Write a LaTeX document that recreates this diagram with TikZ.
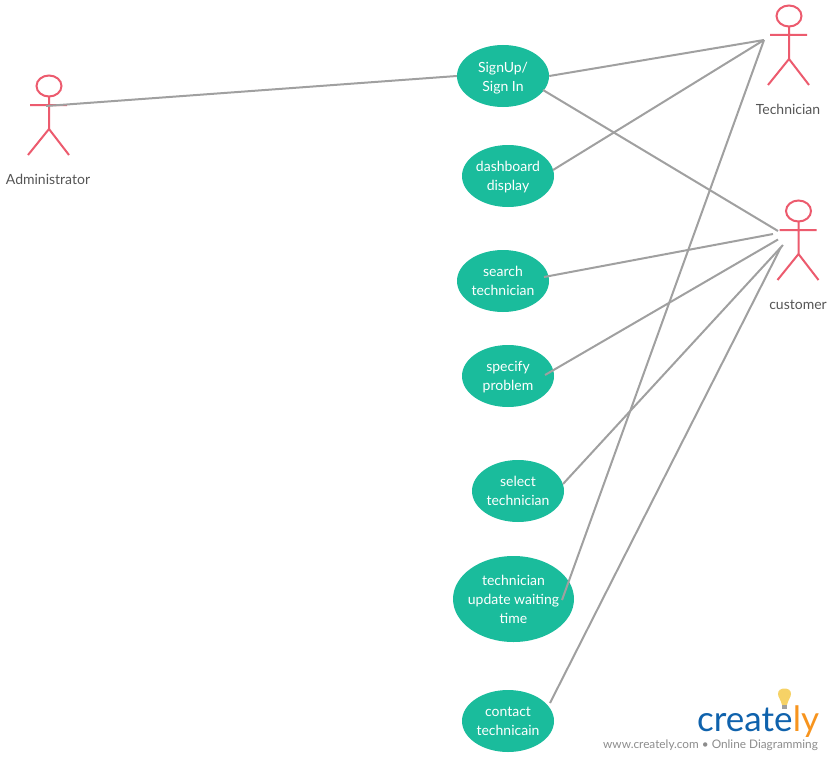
\documentclass[tikz,border=0pt]{standalone}
\usepackage{fontspec}
\setmainfont{Lato}[Extension=.ttf,UprightFont=*-Regular,BoldFont=*-Bold]
\definecolor{uc}{HTML}{1ABC9C}
\definecolor{act}{HTML}{EC5B6E}
\definecolor{lnk}{HTML}{A0A0A0}
\definecolor{lbl}{HTML}{555555}
\definecolor{blu}{HTML}{0F62AC}
\definecolor{org}{HTML}{F7941E}
\definecolor{bulb}{HTML}{F6D266}
\tikzset{
 usecase/.style={ellipse,fill=uc,text=white,inner sep=0pt,align=center,font=\fontsize{14}{19}\selectfont},
 actorline/.style={draw=act,line width=2pt},
 link/.style={draw=lnk,line width=2pt},
 actorlabel/.style={text=lbl,font=\fontsize{14}{17}\selectfont,inner sep=0pt},
}
\usetikzlibrary{shapes.geometric}
\newcommand{\dn}[1]{\rule{0pt}{\dimexpr 10.2pt+#1pt*2\relax}}
\newcommand{\actor}[2]{%
 \draw[actorline] (#1,#2-19) ellipse [x radius=12.5,y radius=10.5];
 \draw[actorline] (#1,#2-8.5) -- (#1,#2+24) (#1-19,#2) -- (#1+18,#2)
   (#1-21,#2+50) -- (#1,#2+24) -- (#1+20,#2+50);
}
\begin{document}
\begin{tikzpicture}[x=1pt,y=-1pt]
\useasboundingbox (0,0) rectangle (832,760);
\node[usecase,minimum width=92pt,minimum height=62pt] (signup) at (503,76) {\dn{2}SignUp/\\Sign In};
\node[usecase,minimum width=92pt,minimum height=62pt] (dash) at (508,176) {\dn{1}dashboard\\display};
\node[usecase,minimum width=92pt,minimum height=62pt] (search) at (503,281) {search\\technician};
\node[usecase,minimum width=92pt,minimum height=62pt] (spec) at (508,376) {\dn{1}specify\\problem};
\node[usecase,minimum width=92pt,minimum height=62pt] (sel) at (518,491) {select\\technician};
\node[usecase,inner xsep=-3pt,minimum width=121pt,minimum height=86pt] (upd) at (513.5,599) {technician\\update waiting\\time};
\node[usecase,minimum width=92pt,minimum height=62pt] (cont) at (508,721) {contact\\technicain};
\actor{49}{105}
\actor{789}{35}
\actor{798.500}{230}
\node[actorlabel] (ladm) at (48,179) {Administrator};
\node[actorlabel] (ltec) at (788,109) {Technician};
\node[actorlabel] (lcus) at (798,304.500) {customer};
\coordinate (admE) at (46,106);
\coordinate (tecE) at (764,40);
\coordinate (cusA) at (778,231);
\coordinate (cusB) at (773,234);
\coordinate (cusC) at (778,239.500);
\coordinate (cusD) at (783,245);
\coordinate (cusE) at (781,247);
\draw[link] (admE) -- (signup.180);
\draw[link] (signup.0) -- (tecE);
\draw[link] ([shift={(40,14)}]signup.center) -- (cusA);
\draw[link] ([shift={(45,-6)}]dash.center) -- (tecE);
\draw[link] ([shift={(41,-4)}]search.center) -- (cusB);
\draw[link] ([shift={(37,-1)}]spec.center) -- (cusC);
\draw[link] ([shift={(45,-7)}]sel.center) -- (cusD);
\draw[link] ([shift={(48.5,1)}]upd.center) -- (tecE);
\draw[link] ([shift={(42,-18)}]cont.center) -- (cusE);
% logo
\fill[bulb] (782,705) .. controls (781,700) and (778,697) .. (778,694) .. controls (778,690) and (781,688.500) .. (784.500,688.500) .. controls (788,688.500) and (791,690) .. (791,694) .. controls (791,697) and (788,700) .. (787,705) -- cycle;
\fill[lnk] (782,705) rectangle (787,709);
\node[anchor=base west,inner sep=0pt,text=blu,font=\fontsize{35}{35}\selectfont] (logoa) at (697,731) {create};
\node[anchor=base west,inner sep=0pt,text=org,font=\fontsize{35}{35}\selectfont] (logob) at (logoa.base east) {ly};
\node[anchor=base east,inner sep=0pt,text=gray!90,font=\fontsize{11.8}{14}\selectfont] (tag) at (818,748) {www.creately.com • Online Diagramming};
\end{tikzpicture}
\end{document}
